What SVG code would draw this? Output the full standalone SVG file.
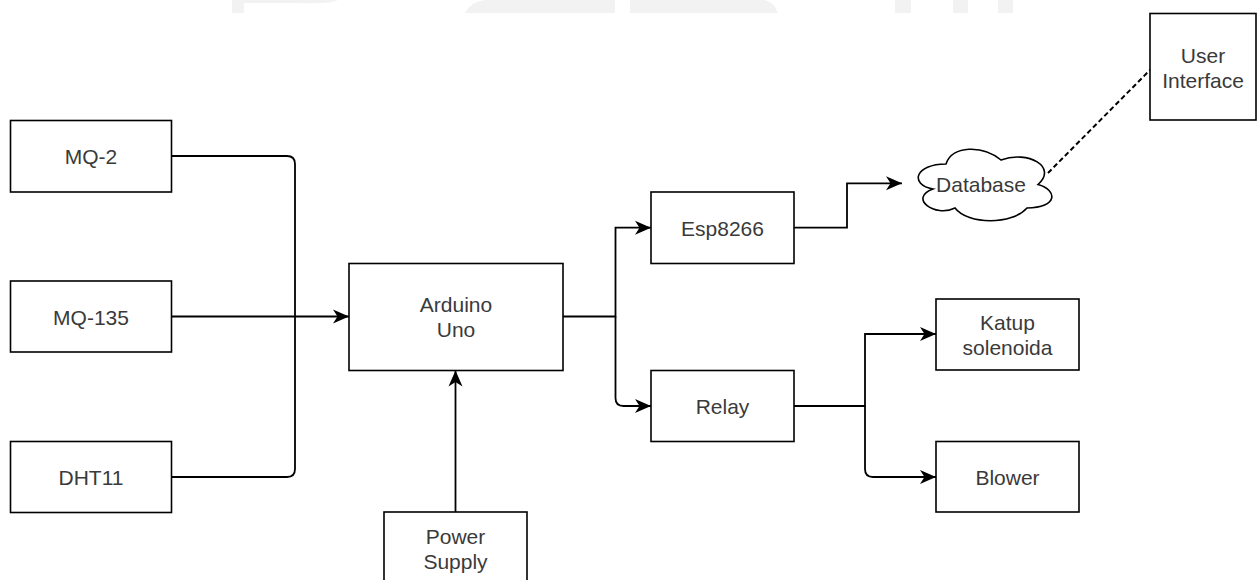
<svg xmlns="http://www.w3.org/2000/svg" width="1258" height="580" viewBox="0 0 1258 580">
<defs>
<style>
.box{fill:#fff;stroke:#000;stroke-width:1.6}
.lbl{font-family:"Liberation Sans",Arial,sans-serif;font-size:21px;fill:#3a3a3a;text-anchor:middle}
.edge{fill:none;stroke:#000;stroke-width:1.8}
.dash{fill:none;stroke:#000;stroke-width:2;stroke-dasharray:5 3}
.wm{fill:#f2f2f2}
</style>
<marker id="arr" markerUnits="userSpaceOnUse" markerWidth="20" markerHeight="18" refX="16" refY="7" orient="auto" overflow="visible">
<path d="M0,0 L16,7 L0,14 L4.5,7 Z" fill="#000"/>
</marker>
</defs>
<rect width="1258" height="580" fill="#fff"/>
<g id="watermark">
<rect class="wm" x="232" y="0" width="12" height="13"/>
<path class="wm" d="M244,0 L338,0 Q330,4 300,3 L244,3 Z"/>
<path class="wm" d="M465,13 Q470,2 485,0 L615,0 L615,13 Z"/>
<path class="wm" d="M630,0 L765,0 Q775,3 778,13 L630,13 Z"/>
<rect class="wm" x="895" y="0" width="16" height="13"/>
<rect class="wm" x="953" y="0" width="15" height="13"/>
<rect class="wm" x="998" y="0" width="15" height="13"/>
</g>
<g id="connectors">
<path class="edge" d="M171.5,156 H287 Q295,156 295,164 V316.5"/>
<path class="edge" d="M171.5,477 H287 Q295,477 295,469 V316.5"/>
<path class="edge" d="M171.5,316.5 H349" marker-end="url(#arr)"/>
<path class="edge" d="M455.5,512 V370.5" marker-end="url(#arr)"/>
<path class="edge" d="M563,316.5 H615.5 V227.7 H651" marker-end="url(#arr)"/>
<path class="edge" d="M615.5,316.5 V398 Q615.5,406 623.5,406 H651" marker-end="url(#arr)"/>
<path class="edge" d="M794,227.7 H847 V183.3 H902" marker-end="url(#arr)"/>
<path class="edge" d="M794,406 H865 V334 H936" marker-end="url(#arr)"/>
<path class="edge" d="M865,406 V469 Q865,477 873,477 H936" marker-end="url(#arr)"/>
<path class="dash" d="M1048,173 L1150,70"/>
</g>
<g id="mq2"><rect class="box" x="10.5" y="120.5" width="161" height="71.5"/><text class="lbl" x="91" y="164">MQ-2</text></g>
<g id="mq135"><rect class="box" x="10.5" y="281" width="161" height="71"/><text class="lbl" x="91" y="324.5">MQ-135</text></g>
<g id="dht11"><rect class="box" x="10.5" y="441.5" width="161" height="71"/><text class="lbl" x="91" y="485">DHT11</text></g>
<g id="arduino"><rect class="box" x="349" y="263.5" width="214" height="107"/><text class="lbl" x="456" y="312">Arduino</text><text class="lbl" x="456" y="337">Uno</text></g>
<g id="power"><rect class="box" x="384" y="512" width="143" height="72"/><text class="lbl" x="455.5" y="544">Power</text><text class="lbl" x="455.5" y="569">Supply</text></g>
<g id="esp"><rect class="box" x="651" y="192" width="143" height="71.5"/><text class="lbl" x="722.5" y="235.5">Esp8266</text></g>
<g id="relay"><rect class="box" x="651" y="370.5" width="143" height="71"/><text class="lbl" x="722.5" y="414">Relay</text></g>
<g id="katup"><rect class="box" x="936" y="299" width="143" height="71"/><text class="lbl" x="1007.5" y="330">Katup</text><text class="lbl" x="1007.5" y="355">solenoida</text></g>
<g id="blower"><rect class="box" x="936" y="441.5" width="143" height="70.5"/><text class="lbl" x="1007.5" y="484.5">Blower</text></g>
<g id="database"><path class="box" d="M946,164 C915,164 909,184.5 933,189 C908,198 935,218 955,208 C968,225 1012,225 1027,208 C1058,208 1058,190 1038,184.5 C1058,167 1028,150 1001,160 C983,145 952,145 946,164 Z"/><text class="lbl" x="981" y="192">Database</text></g>
<g id="ui"><rect class="box" x="1150" y="13.5" width="106" height="106.5"/><text class="lbl" x="1203" y="62.5">User</text><text class="lbl" x="1203" y="87.5">Interface</text></g>
</svg>
